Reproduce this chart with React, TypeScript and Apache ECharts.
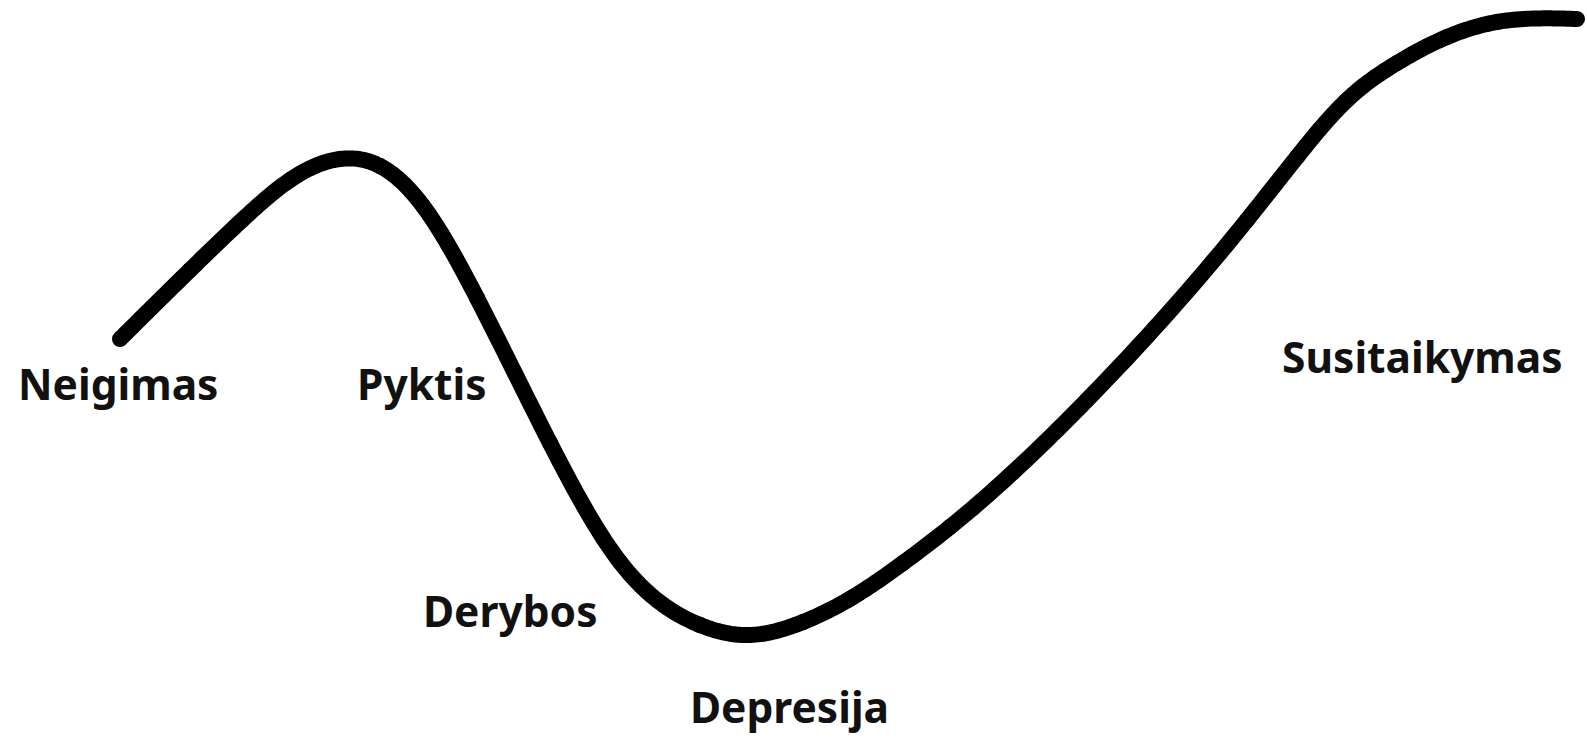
import React, { useEffect, useRef } from "react";
import * as echarts from "echarts";

// Key points of the curve (x, y in pixels; y grows downward)
const curveX = [120, 190, 240, 290, 340, 380, 423, 477, 550, 620, 700, 743, 803, 853, 903, 950, 1087, 1247, 1297, 1347, 1397, 1447, 1497, 1577];
const curveY = [339, 270, 222, 180, 159, 166, 206, 298, 443, 562, 625, 635, 622, 597, 563, 527, 400, 220, 157, 100, 63, 37, 22, 19];

const stageNames = ["Neigimas", "Pyktis", "Derybos", "Depresija", "Susitaikymas"];
const stageX = [18, 357, 423, 690, 1282];
const stageBaseline = [400, 400, 627, 723, 373];

// natural cubic spline second derivatives
function splineM(xs: number[], ys: number[]): number[] {
  const n = xs.length;
  const M = new Array(n).fill(0);
  if (n < 3) return M;
  const a: number[] = [], b: number[] = [], c: number[] = [], d: number[] = [];
  for (let i = 1; i < n - 1; i++) {
    const h0 = xs[i] - xs[i - 1];
    const h1 = xs[i + 1] - xs[i];
    a.push(h0);
    b.push(2 * (h0 + h1));
    c.push(h1);
    d.push(6 * ((ys[i + 1] - ys[i]) / h1 - (ys[i] - ys[i - 1]) / h0));
  }
  const m = b.length;
  for (let i = 1; i < m; i++) {
    const w = a[i] / b[i - 1];
    b[i] -= w * c[i - 1];
    d[i] -= w * d[i - 1];
  }
  const sol = new Array(m).fill(0);
  sol[m - 1] = d[m - 1] / b[m - 1];
  for (let i = m - 2; i >= 0; i--) sol[i] = (d[i] - c[i] * sol[i + 1]) / b[i];
  for (let i = 0; i < m; i++) M[i + 1] = sol[i];
  return M;
}

export default function App() {
  const ref = useRef<HTMLDivElement>(null);
  useEffect(() => {
    document.body.style.margin = "0";
    const chart = echarts.init(ref.current!, undefined, { renderer: "svg" });
    const data = curveX.map((x, i) => [x, curveY[i]]);
    const n = data.length;
    const M = splineM(curveX, curveY);
    const evalAt = (i: number, x: number) => {
      const h = curveX[i + 1] - curveX[i];
      const A = (curveX[i + 1] - x) / h;
      const B = (x - curveX[i]) / h;
      return A * curveY[i] + B * curveY[i + 1] + ((A * A * A - A) * M[i] + (B * B * B - B) * M[i + 1]) * h * h / 6;
    };
    chart.setOption({
      animation: false,
      backgroundColor: "#ffffff",
      grid: { left: 0, right: 0, top: 0, bottom: 0 },
      xAxis: { type: "value", min: 0, max: 1587, show: false },
      yAxis: { type: "value", min: 0, max: 738, inverse: true, show: false },
      series: [
        {
          type: "custom",
          data,
          silent: true,
          renderItem: (params: any, api: any) => {
            const i = params.dataIndex;
            if (i >= n - 1) return null;
            const steps = 24;
            const pts: number[][] = [];
            for (let s = 0; s <= steps; s++) {
              const x = curveX[i] + ((curveX[i + 1] - curveX[i]) * s) / steps;
              pts.push(api.coord([x, evalAt(i, x)]));
            }
            return {
              type: "polyline",
              shape: { points: pts },
              style: { stroke: "#000000", lineWidth: 16, fill: "none", lineCap: "round", lineJoin: "round" },
            };
          },
        },
      ],
      graphic: stageNames.map((name, i) => ({
        type: "text",
        x: stageX[i],
        y: stageBaseline[i] - 17,
        style: {
          text: name,
          font: "bold 42.5px 'Noto Sans'",
          fill: "#111111",
          textAlign: "left",
          textVerticalAlign: "middle",
          verticalAlign: "middle",
        },
      })),
    });
    return () => chart.dispose();
  }, []);
  return (
    <div
      ref={ref}
      style={{ position: "absolute", left: 0, top: 0, width: 1587, height: 738 }}
    />
  );
}
